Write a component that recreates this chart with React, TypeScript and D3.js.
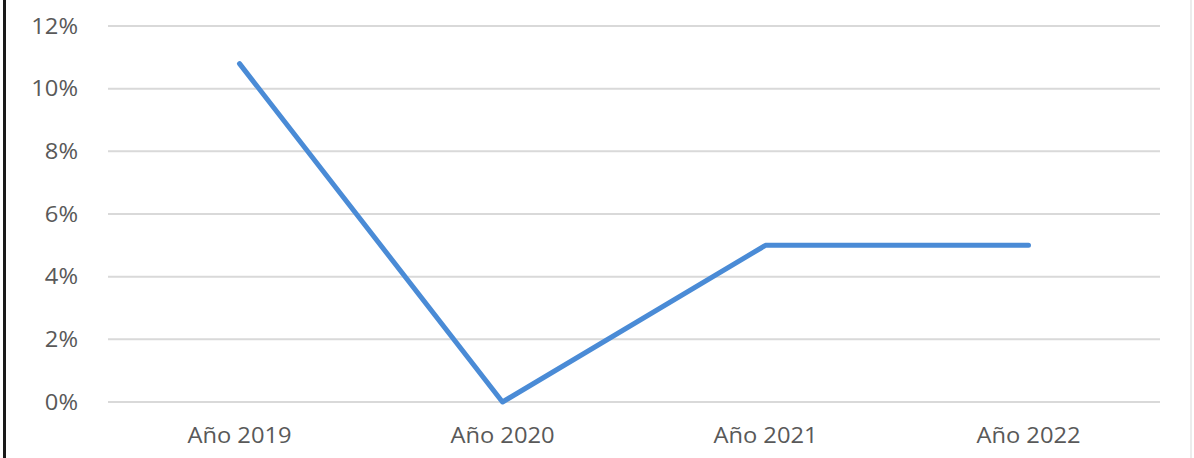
import React from "react";
import * as d3 from "d3";

const categories = ["Año 2019", "Año 2020", "Año 2021", "Año 2022"];
const values = [10.8, 0, 5, 5];
const yTicks = [0, 2, 4, 6, 8, 10, 12];

const W = 1194;
const H = 458;
const margin = { left: 108, right: 34, top: 26, bottom: 56 };

export default function App() {
  const x = d3
    .scaleBand<string>()
    .domain(categories)
    .range([margin.left, W - margin.right])
    .padding(0);
  const y = d3.scaleLinear().domain([0, 12]).range([H - margin.bottom, margin.top]);
  const line = d3
    .line<number>()
    .x((_, i) => (x(categories[i]) as number) + x.bandwidth() / 2)
    .y((d) => y(d));
  const font = "'Open Sans', sans-serif";
  const sx = 1.13;
  return (
    <svg
      width={W}
      height={H}
      style={{ position: "absolute", left: 0, top: 0, background: "#fff" }}
    >
      <rect x={0} y={0} width={W} height={H} fill="#fff" />
      <line x1={4.5} x2={4.5} y1={0} y2={H} stroke="#1a1a1a" strokeWidth={3} />
      <line x1={1191} x2={1191} y1={0} y2={H} stroke="#ececec" strokeWidth={2} />
      {yTicks.map((t) => (
        <g key={t}>
          <line
            x1={margin.left}
            x2={W - margin.right}
            y1={y(t)}
            y2={y(t)}
            stroke="#d9d9d9"
            strokeWidth={2}
          />
          <g transform={`translate(78,${y(t)}) scale(${sx},1)`}>
            <text
              x={0}
              y={0}
              dy="0.36em"
              textAnchor="end"
              fontFamily={font}
              fontSize={21}
              fill="#595959"
            >
              {t}%
            </text>
          </g>
        </g>
      ))}
      {categories.map((c) => (
        <g
          key={c}
          transform={`translate(${(x(c) as number) + x.bandwidth() / 2},443) scale(${sx},1)`}
        >
          <text
            x={0}
            y={0}
            textAnchor="middle"
            fontFamily={font}
            fontSize={21}
            fill="#595959"
          >
            {c}
          </text>
        </g>
      ))}
      <path
        d={line(values) || ""}
        fill="none"
        stroke="#4a8bd6"
        strokeWidth={5}
        strokeLinejoin="round"
        strokeLinecap="round"
      />
    </svg>
  );
}
